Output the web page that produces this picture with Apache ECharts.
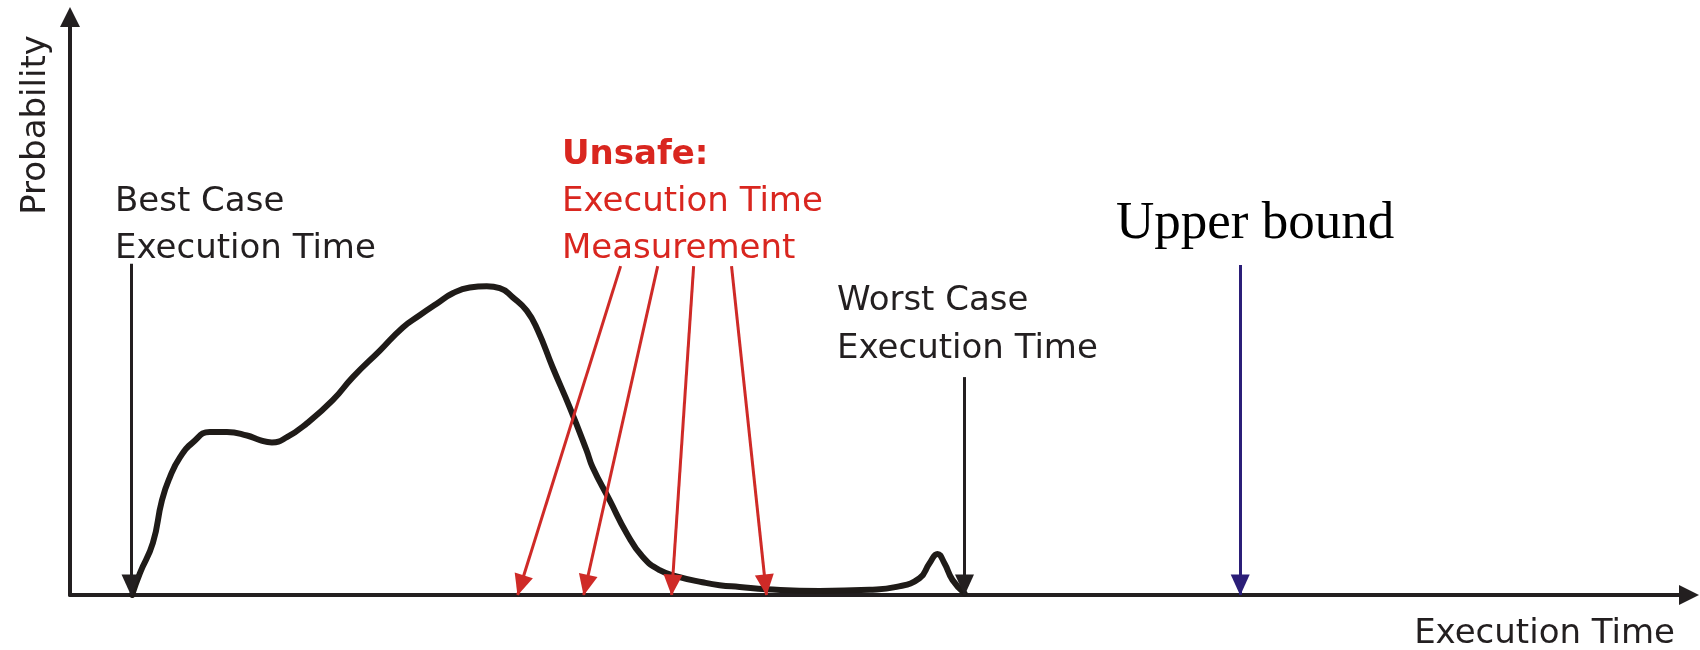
<!DOCTYPE html>
<html>
<head>
<meta charset="utf-8">
<script src="https://cdn.jsdelivr.net/npm/echarts@6/dist/echarts.min.js"></script>
<style>html,body{margin:0;padding:0;background:#fff}#c{width:1700px;height:650px}</style>
</head>
<body>
<div id="c"></div>
<script>
// ---- data (x: execution time units 0..1000, y: probability 0..100) ----
const curveX = [38.3,43.2,51.2,56.8,61.7,67.9,75.9,86.4,96.9,109.3,117.3,124.7,134.0,146.3,162.3,174.7,191.4,205.6,216.0,226.5,236.4,246.9,257.4,265.4,273.5,282.1,288.9,298.1,308.6,319.1,322.8,333.3,343.8,353.7,364.2,376.5,390.7,401.2,413.6,430.2,463.0,493.8,510.5,524.7,530.9,535.8,540.1,545.1,552.5];
const curveY = [0,3.8,9.0,16.4,20.4,23.8,26.4,28.2,28.2,27.6,26.8,26.4,27.3,29.7,33.7,37.7,42.3,46.3,48.4,50.4,52.2,53.2,53.4,53.1,51.5,49.2,45.8,39.4,32.5,25.0,22.1,16.4,10.7,6.6,4.3,3.1,2.2,1.7,1.4,1.0,0.7,0.9,1.4,2.9,5.5,7.1,5.5,2.6,0.3];

const bestCaseX = 37.7;
const worstCaseX = 552.5;
const upperBoundX = 722.8;
const measureFromX = [340.1, 363.0, 385.2, 408.6];
const measureToX = [276.5, 317.3, 371.6, 430.2];
const bestTopY = 57.3;
const worstTopY = 37.7;
const upperTopY = 57.1;
const measureTopY = 56.9;

const xAxisName = 'Execution Time';
const yAxisName = 'Probability';
const bestLabel = ['Best Case', 'Execution Time'];
const unsafeLabel = ['Unsafe:', 'Execution Time', 'Measurement'];
const worstLabel = ['Worst Case', 'Execution Time'];
const upperLabel = 'Upper bound';

// ---- chart ----
const INK = '#231f20';
const RED = '#cf2a27';
const REDTXT = '#d9261f';
const BLUE = '#2b1e78';
const FONT = '"DejaVu Sans", Verdana, sans-serif';

const curveData = curveX.map((x, i) => [x, curveY[i]]);

function arrow(x0, y0, x1, y1) { return [{ coord: [x0, y0] }, { coord: [x1, y1] }]; }

function arrowSeries(color, data) {
  return {
    type: 'line', data: [], clip: false, silent: true, z: 4,
    markLine: {
      silent: true, animation: false, precision: 4,
      symbol: ['none', 'triangle'],
      symbolSize: [19, 21],
      symbolOffset: [[0, 0], [0, 10]],
      label: { show: false },
      emphasis: { disabled: true },
      lineStyle: { color: color, width: 3, type: 'solid', opacity: 1 },
      data: data
    }
  };
}

const chart = echarts.init(document.getElementById('c'), null, { renderer: 'canvas' });

const textEl = (x, y, text, opts) => ({
  type: 'text', x: x, y: y,
  style: Object.assign({ text: text, fill: INK, font: '34px ' + FONT, textAlign: 'left', verticalAlign: 'middle' }, opts || {})
});

chart.setOption({
  animation: false,
  backgroundColor: '#ffffff',
  grid: { left: 70, right: 11, top: 17, bottom: 55, containLabel: false },
  xAxis: {
    type: 'value', min: 0, max: 1000,
    axisLine: { show: true, onZero: false, symbol: ['none', 'triangle'], symbolSize: [20, 20], lineStyle: { color: INK, width: 4 } },
    axisTick: { show: false }, axisLabel: { show: false }, splitLine: { show: false }
  },
  yAxis: {
    type: 'value', min: 0, max: 100,
    axisLine: { show: true, onZero: false, symbol: ['none', 'triangle'], symbolSize: [20, 20], lineStyle: { color: INK, width: 4 } },
    axisTick: { show: false }, axisLabel: { show: false }, splitLine: { show: false }
  },
  series: [
    {
      type: 'line', data: curveData, smooth: 0.5, showSymbol: false, z: 3,
      lineStyle: { color: '#1f1b18', width: 6, cap: 'round', join: 'round' }
    },
    arrowSeries(INK, [arrow(bestCaseX, bestTopY, bestCaseX, 0), arrow(worstCaseX, worstTopY, worstCaseX, 0)]),
    arrowSeries(RED, measureFromX.map((x, i) => arrow(x, measureTopY, measureToX[i], 0))),
    arrowSeries(BLUE, [arrow(upperBoundX, upperTopY, upperBoundX, 0)])
  ],
  graphic: [
    { type: 'text', x: 36, y: 125, rotation: Math.PI / 2,
      style: { text: yAxisName, fill: INK, font: '34px ' + FONT, textAlign: 'center', verticalAlign: 'middle' } },
    textEl(115, 202, bestLabel[0]),
    textEl(115, 249, bestLabel[1]),
    textEl(562, 155, unsafeLabel[0], { fill: REDTXT, font: 'bold 34px ' + FONT }),
    textEl(562, 202, unsafeLabel[1], { fill: REDTXT }),
    textEl(562, 249, unsafeLabel[2], { fill: REDTXT }),
    textEl(837, 301, worstLabel[0]),
    textEl(837, 349, worstLabel[1]),
    textEl(1116, 224, upperLabel, { fill: '#000000', font: '53px "Liberation Serif", "Times New Roman", serif' }),
    textEl(1675, 634, xAxisName, { textAlign: 'right' })
  ]
});
</script>
</body>
</html>
